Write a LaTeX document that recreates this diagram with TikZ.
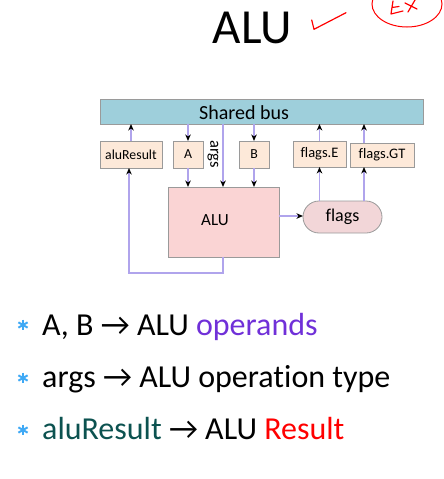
\documentclass[tikz,border=0pt]{standalone}
\usepackage{fontspec}
\setmainfont[Ligatures={NoCommon}]{Carlito}
\usetikzlibrary{arrows.meta,shapes.misc,calc}
\definecolor{busfill}{HTML}{9ECFDB}
\definecolor{regfill}{HTML}{FDE9D9}
\definecolor{alufill}{HTML}{FAD4D4}
\definecolor{flagfill}{HTML}{F2D6D8}
\definecolor{edgegray}{HTML}{9A9A9A}
\definecolor{wire}{HTML}{B0A4EC}
\definecolor{opcol}{HTML}{7030D8}
\definecolor{tealcol}{HTML}{0C5250}
\definecolor{starcol}{HTML}{3FA9F5}
\tikzset{
  box/.style={draw=edgegray,line width=0.8pt,inner sep=0pt,outer sep=0pt},
  reg/.style={box,fill=regfill,font=\fontsize{13.8}{15}\selectfont},
  conn/.style={draw=wire,line width=1.3pt,-{Stealth[black,length=6.5pt,width=5.5pt,inset=2pt]}},
  bul/.style={anchor=base west,inner sep=0pt,font=\fontsize{32}{35}\selectfont},
  star/.style={starcol,line width=2pt},
}
\begin{document}
\begin{tikzpicture}[x=1pt,y=-1pt]
\useasboundingbox (0,0) rectangle (444,479);
\begin{scope}
\clip (0,0) rectangle (444,479);
% title
\node[anchor=base,inner sep=0pt,font=\fontsize{49}{52}\selectfont] (title) at (252.5,43) {ALU};
% red annotations
\draw[red,line width=1.2pt,line join=round,line cap=round] (311.7,20) -- (314,29.3) -- (346,12.7);
\draw[red,line width=1pt] (407,4) ellipse [x radius=35, y radius=23];
\draw[red,line width=1.2pt,line cap=round,line join=round] (393,1) -- (391,14) -- (403,11) (392,7.5) -- (399,6.5);
\draw[red,line width=1.2pt,line cap=round] (405,3) -- (417,9) (415,0) -- (408,12);
\end{scope}
% bus
\node[box,fill=busfill,minimum width=323pt,minimum height=25pt] (bus) at (261.5,111.5) {};
\node[inner sep=0pt,font=\fontsize{20}{22}\selectfont] (bustext) at (244,112.5) {Shared bus};
% registers
\node[reg,minimum width=62pt,minimum height=27pt] (res) at (131,154.5) {aluResult};
\node[reg,minimum width=30pt,minimum height=27pt] (A) at (188,154.5) {A};
\node[reg,minimum width=30pt,minimum height=27pt] (B) at (254,154.5) {B};
\node[reg,minimum width=53pt,minimum height=26pt,font=\fontsize{14.5}{16}\selectfont] (fE) at (319.5,154) {flags.E};
\node[reg,minimum width=64pt,minimum height=24pt,font=\fontsize{14.5}{16}\selectfont] (fGT) at (382,155) {flags.GT};
% ALU
\node[box,fill=alufill,minimum width=111pt,minimum height=70pt] (alu) at (223.5,222) {};
\node[inner sep=0pt,font=\fontsize{17}{19}\selectfont] (alutext) at (215,220) {ALU};
% flags
\node[box,fill=flagfill,rounded rectangle,minimum width=79pt,minimum height=32pt,font=\fontsize{18}{20}\selectfont] (flags) at (342.5,217) {flags};
% args label
\node[inner sep=0pt,rotate=-90,font=\fontsize{16.5}{18}\selectfont] (args) at (213,154) {args};
% connectors
\draw[conn] (res.north -| 131,0) -- (bus.south -| 131,0);
\draw[conn] (bus.south -| A) -- (A.north);
\draw[conn] (A.south) -- (alu.north -| A);
\draw[conn] (bus.south -| 223,0) -- (alu.north -| 223,0);
\draw[conn] (bus.south -| B) -- (B.north);
\draw[conn] (B.south) -- (alu.north -| B);
\draw[conn] (fE.north) -- (bus.south -| fE);
\draw[conn] (fGT.north -| 364,0) -- (bus.south -| 364,0);
\draw[conn] (flags.north -| 319.5,0) -- (fE.south);
\draw[conn] (flags.north -| 364,0) -- (fGT.south -| 364,0);
\draw[conn] (alu.east |- 0,216) -- (flags.west |- 0,216);
\draw[conn] (alu.south -| 223,0) -- (223,273) -- (129,273) -- (res.south -| 129,0);
% bullets
\foreach \y in {325,378,430}{
  \draw[star] (23,\y-5.3) -- (23,\y+5.3);
  \draw[star] ($(23,\y)+(-30:5.3)$) -- ($(23,\y)+(150:5.3)$);
  \draw[star] ($(23,\y)+(30:5.3)$) -- ($(23,\y)+(210:5.3)$);
}
\node[bul] (l1) at (42,335) {A, B → ALU \textcolor{opcol}{operands}};
\node[bul] (l2) at (42,387) {args → ALU operation type};
\node[bul] (l3) at (42,439) {\textcolor{tealcol}{aluResult} → ALU \textcolor{red}{Result}};
\end{tikzpicture}
\end{document}
